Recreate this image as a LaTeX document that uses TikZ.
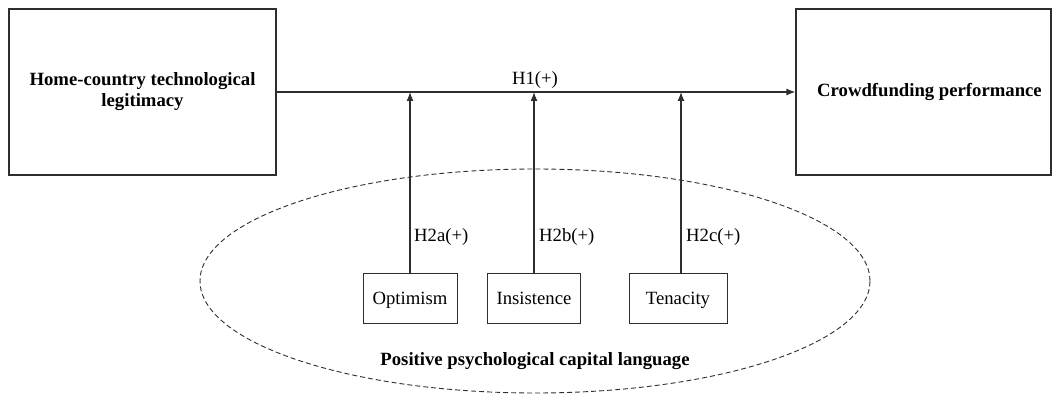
\documentclass[tikz,border=0pt]{standalone}
\usepackage{fontspec}
\setmainfont{Liberation Serif}
\usetikzlibrary{shapes.geometric,arrows.meta}
\definecolor{ln}{HTML}{2E2E2E}
\begin{document}
\begin{tikzpicture}[x=1pt,y=-1pt,
  bigbox/.style={draw=ln,line width=1.1pt,inner sep=0pt,minimum height=166pt,align=center,
    font=\fontsize{18.7}{21}\selectfont\bfseries},
  smallbox/.style={draw=ln,line width=1pt,inner sep=0pt,minimum height=50pt,
    text height=13pt,text depth=0pt,font=\fontsize{18.7}{22}\selectfont},
  hyp/.style={font=\fontsize{18.7}{22}\selectfont,inner sep=0pt},
  conn/.style={draw=ln,line width=1.2pt,-{Latex[length=9pt,width=7pt]}},
  every node/.append style={text=black}]
\useasboundingbox (0,0) rectangle (1052,401);
% ellipse
\node[ellipse,draw=ln,line width=0.9pt,dash pattern=on 5pt off 3pt,minimum width=670pt,minimum height=224pt,inner sep=0pt] (pcl) at (535,281) {};
\node[font=\fontsize{18.7}{22}\selectfont\bfseries,inner sep=0pt] (pcllab) at (535,361) {Positive psychological capital language};
% main boxes
\node[bigbox,minimum width=267pt] (home) at (142.5,92) {Home-country technological\\legitimacy};
\node[bigbox,minimum width=255pt] (crowd) at (923.5,92) {\hspace*{12pt}Crowdfunding performance};
\draw[conn] (home.east) -- (crowd.west);
\node[hyp] (h1) at (535,80) {H1(+)};
% moderators
\node[smallbox,minimum width=94pt] (opt) at (410,298) {Optimism};
\node[smallbox,minimum width=93pt] (ins) at (534,298) {Insistence};
\node[smallbox,minimum width=98pt] (ten) at (678,298) {Tenacity};
\coordinate (t1) at (opt.north |- home.east);
\coordinate (t2) at (ins.north |- home.east);
\coordinate (t3) at (681,92);
\coordinate (b3) at (681,273);
\draw[conn] (opt.north) -- (t1);
\draw[conn] (ins.north) -- (t2);
\draw[conn] (b3) -- (t3);
\node[hyp,anchor=west] (h2a) at (414,237) {H2a(+)};
\node[hyp,anchor=west] (h2b) at (539,237) {H2b(+)};
\node[hyp,anchor=west] (h2c) at (686,237) {H2c(+)};
\end{tikzpicture}
\end{document}
